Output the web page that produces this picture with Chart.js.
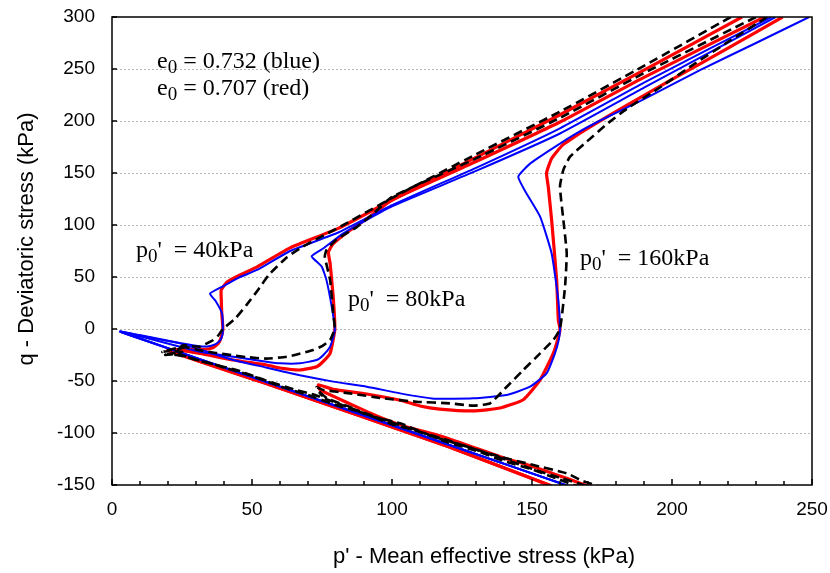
<!DOCTYPE html>
<html>
<head>
<meta charset="utf-8">
<script src="https://cdn.jsdelivr.net/npm/chart.js@4.4.1/dist/chart.umd.min.js"></script>
<style>
  html, body { margin: 0; padding: 0; background: #fff; }
  #wrap { width: 830px; height: 573px; }
</style>
</head>
<body>
<div id="wrap"><canvas id="grafico"></canvas></div>
<script>
// Trajetórias [p', q] (kPa): compressão (do topo até p0) e depois extensão
const blue40 = [[235.5,300],[190,237],[160,193],[130,155],[100,119],[81,93],[63.6,75],[52,57],[45,49],[39.6,41],[35,34],[37,27],[39.3,15],[39.6,0],
  [39.4,-6],[38.6,-11],[37,-14.5],[34,-16.8],[30,-16],[24,-13.5],[15,-9],[3,-2.6],[60,-55.4],[120,-111],[168,-155.6]];
const red40 = [[225,300],[190,249],[160,206],[130,165],[100,124],[81,97],[63.6,78],[52,60],[45,51],[41,45],[39,37.5],[39,30],[39.2,15],[39.6,0],
  [39,-8],[38,-13.8],[36,-18],[33,-19.5],[28,-19.5],[20,-20.5],[60,-57],[120,-113],[157,-151]];
const dash40 = [[221,300],[190,253],[160,209],[130,168],[100,126],[84,102],[68,79],[62.5,69],[56,52],[52,37],[48,23],[44,10],[39.6,0],
  [38,-6],[36.2,-10.6],[33,-15],[31.4,-17],[28,-16.5],[25.5,-15.4],[24,-19],[26,-17.5],[22,-21],[25,-22],[20,-24],[23,-25],[27,-27],
  [32,-31],[36,-33.5],[40,-37],[50,-45],[60,-55],[70,-63.5],[80,-73],[90,-81],[100,-91.5],[110,-99],[120,-109],[130,-117],[140,-127],[150,-135],[160,-145],[168,-153]];

const blue80 = [[237,300],[190,232],[160,188],[130,152],[100,118],[91,105],[82.6,92],[75.5,77.6],[71.3,70],[74.9,60],[76.6,47],[78.5,21],[79.6,0],
  [79,-8],[77.9,-17],[75.5,-25],[73.1,-29.8],[67.1,-33],[60,-33],[55.2,-31.4],[43.3,-26.6],[31.4,-21.8],[24.3,-17],[12,-8.5],[3,-2.6],[60,-55.4],[120,-111],[168,-155.6]];
const red80 = [[233,300],[190,242],[160,199],[130,161],[100,124],[92,108],[85,95],[79,82],[77.3,74],[77.9,63],[79,31],[79.6,0],
  [79,-10],[77.9,-23.4],[75.5,-31],[73.1,-36.2],[67.1,-39.4],[60,-37.5],[55.2,-34.6],[43.3,-29.8],[31.4,-23.4],[24.3,-20.5],[20,-20.5],[60,-57],[120,-113],[157,-151]];
const dash80 = [[230,300],[190,246],[160,203],[130,164],[100,127],[93,110],[87.4,98],[80,85.6],[76.6,76],[76,69.5],[77.9,47],[79,15],[79.6,0],
  [79,-4],[77.9,-10.6],[75,-16.5],[71.9,-20.2],[66,-24.5],[62.4,-26.6],[55.2,-28.5],[48,-27],[43.3,-25.3],[37,-23],[31.4,-20.5],[25.5,-17],
  [22,-19],[18,-22],[21,-21],[19,-25],[24,-24],[28,-28],[35,-33],[45,-40],[55,-49.5],[65,-58],[72,-63],[80,-71],[90,-80.5],[100,-90],
  [110,-99],[120,-107],[130,-116],[140,-125],[150,-134.5],[160,-143],[172,-153]];

const blue160 = [[249,300],[230,275],[210,249],[190,221],[174,200],[164.8,186.5],[156.4,172],[149.3,159],[145.1,146.4],[148,130.5],[152.9,108],[157,72.8],[159.4,28],[160,0],
  [159.6,-10],[158.2,-23.4],[155.2,-42.6],[149.3,-55.5],[141,-63.5],[129,-66.6],[115,-67],[102.9,-61.9],[91,-55.5],[79,-50.6],[67.1,-44.5],[55,-37],[43.3,-29.8],[33,-21],[24.3,-13.8],[12,-7],[3,-2.6],
  [60,-55.4],[120,-111],[168,-155.6]];
const red160 = [[239.5,300],[220,270],[200,240],[183.8,215],[173,198],[167,188],[161,177],[157,164],[155.2,150],[155.8,137],[157,105],[158.8,47],[159.4,8.6],[160,0],
  [159.4,-8],[157.6,-23.4],[152.9,-49],[146.9,-68],[138.6,-76],[129,-78.8],[117,-77],[110,-74],[102.9,-68.5],[91,-62.5],[79,-58],[73.7,-53.8],[74.3,-58.6],
  [85,-72],[95,-84],[105,-94],[115,-101],[126.7,-111.5],[138.6,-122.8],[150.5,-132.4],[162.4,-143.6],[172,-153]];
const dash160 = [[234,300],[220,276],[207.5,254],[195,231],[184,212],[176.7,197],[169.5,180],[163.6,165.7],[161.2,153],[160,137],[161.2,104.8],[162.4,72.8],[161.8,40.7],[160,0],
  [157.6,-10.6],[152.9,-23.4],[146.9,-39.4],[141,-55.5],[135,-71.5],[129,-73.7],[120.7,-71.5],[108.8,-69.9],[96.9,-66.7],[85,-61.9],[75.5,-58.7],[73,-56],[75,-64],[73.5,-59],[77,-67],
  [85,-75],[91,-82.7],[102.9,-90.7],[114.8,-103.5],[126.7,-113],[138.6,-122.8],[150.5,-130.8],[162.4,-138.8],[168,-146],[176,-153]];

// Eixos
const xLimites = [0, 250];
const yLimites = [-150, 300];
const passo = 50;
const tituloX = "p' - Mean effective stress (kPa)";
const tituloY = 'q - Deviatoric stress (kPa)';

const AZUL = '#0000ff';
const VERMELHO = '#ff0000';
const PRETO = '#000000';
const fonteEixo = "'Liberation Sans', Arial, sans-serif";
const fonteTexto = "'Liberation Serif', 'Times New Roman', serif";

function serie(pts, cor, largura, tracejado) {
  return {
    data: pts.map(([x, y]) => ({ x, y })),
    showLine: true,
    pointRadius: 0,
    borderColor: cor,
    borderWidth: largura,
    borderDash: tracejado ? [9, 5] : [],
    tension: 0.15,
    fill: false,
    clip: 0
  };
}

// texto com subscrito: partes = [[texto, ehSub], ...]
function textoSub(ctx, x, y, partes, tam) {
  let cx = x;
  partes.forEach(([t, sub]) => {
    ctx.font = (sub ? Math.round(tam * 0.78) : tam) + 'px ' + fonteTexto;
    ctx.fillText(t, cx, sub ? y + tam * 0.2 : y);
    cx += ctx.measureText(t).width;
  });
}

const moldura = {
  id: 'moldura',
  beforeDatasetsDraw(chart) {
    const { ctx, chartArea: a, scales } = chart;
    ctx.save();
    ctx.strokeStyle = '#b4b4b4';
    ctx.lineWidth = 1;
    ctx.setLineDash([2, 2]);
    for (let q = yLimites[0] + passo; q < yLimites[1]; q += passo) {
      const y = Math.round(scales.y.getPixelForValue(q)) + 0.5;
      ctx.beginPath();
      ctx.moveTo(a.left, y);
      ctx.lineTo(a.right, y);
      ctx.stroke();
    }
    ctx.restore();
  },
  afterDatasetsDraw(chart) {
    const { ctx, chartArea: a, scales } = chart;
    ctx.save();
    ctx.strokeStyle = PRETO;
    ctx.lineWidth = 1.5;
    ctx.setLineDash([]);
    ctx.strokeRect(a.left, a.top, a.right - a.left, a.bottom - a.top);
    ctx.beginPath();
    // x: maiores a cada 50, menores a cada 10, para dentro
    for (let p = xLimites[0]; p <= xLimites[1]; p += 10) {
      const x = scales.x.getPixelForValue(p);
      const len = p % passo === 0 ? 6 : 4;
      ctx.moveTo(x, a.bottom);
      ctx.lineTo(x, a.bottom - len);
    }
    for (let q = yLimites[0]; q <= yLimites[1]; q += passo) {
      const y = scales.y.getPixelForValue(q);
      ctx.moveTo(a.left, y);
      ctx.lineTo(a.left + 5, y);
    }
    ctx.stroke();

    // títulos dos eixos
    ctx.fillStyle = PRETO;
    ctx.font = '22px ' + fonteEixo;
    ctx.textAlign = 'center';
    ctx.textBaseline = 'middle';
    ctx.fillText(tituloX, 484, 557);
    ctx.save();
    ctx.translate(27, 239);
    ctx.rotate(-Math.PI / 2);
    ctx.fillText(tituloY, 0, 0);
    ctx.restore();

    // anotações
    ctx.textAlign = 'left';
    ctx.textBaseline = 'alphabetic';
    textoSub(ctx, 157, 68, [['e', false], ['0', true], [' = 0.732 (blue)', false]], 24);
    textoSub(ctx, 157, 95, [['e', false], ['0', true], [' = 0.707 (red)', false]], 24);
    textoSub(ctx, 136, 257, [['p', false], ['0', true], ["'  = 40kPa", false]], 24);
    textoSub(ctx, 348, 306, [['p', false], ['0', true], ["'  = 80kPa", false]], 24);
    textoSub(ctx, 580, 265, [['p', false], ['0', true], ["'  = 160kPa", false]], 24);
    ctx.restore();
  }
};

// marcas invisíveis: só afastam os rótulos do eixo sem mexer no padding
const gradeInvisivel = (len) => ({ display: true, drawOnChartArea: false, drawTicks: true, tickLength: len, color: 'rgba(0,0,0,0)' });

new Chart(document.getElementById('grafico'), {
  type: 'scatter',
  data: {
    datasets: [
      serie(dash40, PRETO, 2.6, true),
      serie(dash80, PRETO, 2.6, true),
      serie(dash160, PRETO, 2.6, true),
      serie(blue40, AZUL, 2, false),
      serie(blue80, AZUL, 2, false),
      serie(blue160, AZUL, 2, false),
      serie(red40, VERMELHO, 3.2, false),
      serie(red80, VERMELHO, 3.2, false),
      serie(red160, VERMELHO, 3.2, false)
    ]
  },
  plugins: [moldura],
  options: {
    responsive: true,
    maintainAspectRatio: false,
    animation: false,
    devicePixelRatio: 1,
    layout: { autoPadding: false, padding: { left: 22, right: 18, top: 17, bottom: 0 } },
    plugins: { legend: { display: false }, tooltip: { enabled: false } },
    scales: {
      x: {
        type: 'linear',
        min: xLimites[0],
        max: xLimites[1],
        ticks: { stepSize: passo, color: PRETO, padding: 0, font: { family: fonteEixo, size: 19 }, maxRotation: 0 },
        grid: gradeInvisivel(13),
        border: { display: false },
        title: { display: false },
        afterFit(s) { s.height = 88; }
      },
      y: {
        type: 'linear',
        min: yLimites[0],
        max: yLimites[1],
        ticks: { stepSize: passo, color: PRETO, padding: 0, font: { family: fonteEixo, size: 19 } },
        grid: gradeInvisivel(17),
        border: { display: false },
        title: { display: false },
        afterFit(s) { s.width = 90; }
      }
    }
  }
});
</script>
</body>
</html>
